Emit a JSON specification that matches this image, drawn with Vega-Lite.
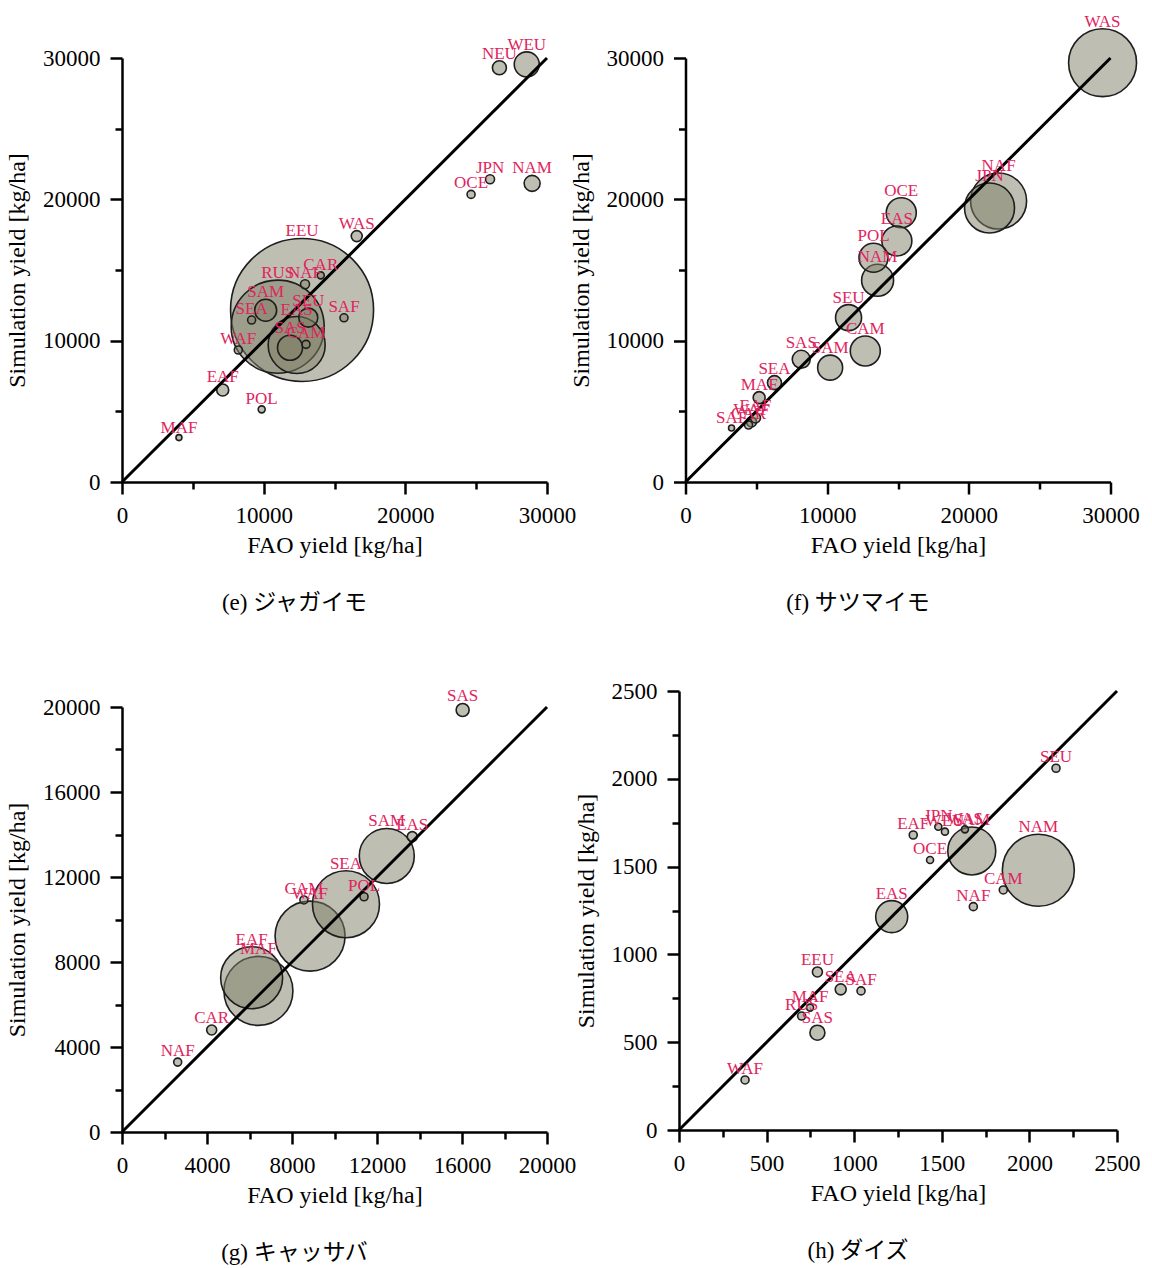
{
  "$schema": "https://vega.github.io/schema/vega-lite/v6.json",
  "background": "white",
  "padding": {"left": 5, "top": 12, "right": 0, "bottom": 0},
  "config": {
    "view": {"stroke": null},
    "axis": {"domainColor": "black", "domainWidth": 2.5, "tickColor": "black", "tickWidth": 2.5, "labelFont": "Liberation Serif", "labelFontSize": 23, "labelColor": "black", "titleFont": "Liberation Serif", "titleFontSize": 24, "titleFontWeight": "normal", "titleColor": "black", "grid": false, "labelFlush": false, "labelOverlap": false, "labelPadding": 10, "titlePadding": 6},
    "axisY": {"titlePadding": 13},
    "title": {"font": "Liberation Serif, Noto Sans CJK JP", "fontSize": 23, "fontWeight": "normal", "color": "black", "orient": "bottom", "anchor": "middle", "dx": -40, "offset": 35}
  },
  "datasets": {
    "e": [
      {"r": "EEU", "fao": 12710, "sim": 12170, "p": 204.5},
      {"r": "RUS", "fao": 10990, "sim": 10990, "p": 86.5},
      {"r": "EAS", "fao": 12330, "sim": 9690, "p": 32.5},
      {"r": "SAS", "fao": 11860, "sim": 9500, "p": 6.25},
      {"r": "WEU", "fao": 28570, "sim": 29550, "p": 6.25},
      {"r": "SAM", "fao": 10140, "sim": 12150, "p": 4.84},
      {"r": "SEU", "fao": 13150, "sim": 11630, "p": 3.61},
      {"r": "NAM", "fao": 28950, "sim": 21130, "p": 2.56},
      {"r": "NEU", "fao": 26640, "sim": 29310, "p": 1.96},
      {"r": "EAF", "fao": 7110, "sim": 6510, "p": 1.44},
      {"r": "WAS", "fao": 16570, "sim": 17400, "p": 1.21},
      {"r": "JPN", "fao": 25980, "sim": 21420, "p": 0.81},
      {"r": "NAF", "fao": 12920, "sim": 13990, "p": 0.81},
      {"r": "OCE", "fao": 24640, "sim": 20350, "p": 0.64},
      {"r": "SEA", "fao": 9150, "sim": 11460, "p": 0.64},
      {"r": "SAF", "fao": 15670, "sim": 11620, "p": 0.64},
      {"r": "WAF", "fao": 8210, "sim": 9340, "p": 0.64},
      {"r": "CAM", "fao": 12990, "sim": 9740, "p": 0.64},
      {"r": "CAR", "fao": 14030, "sim": 14620, "p": 0.49},
      {"r": "POL", "fao": 9860, "sim": 5140, "p": 0.49},
      {"r": "MAF", "fao": 4020, "sim": 3140, "p": 0.36}
    ],
    "f": [
      {"r": "WAS", "fao": 29440, "sim": 29670, "p": 46.2},
      {"r": "NAF", "fao": 22100, "sim": 19880, "p": 31.4},
      {"r": "JPN", "fao": 21460, "sim": 19390, "p": 25},
      {"r": "NAM", "fao": 13560, "sim": 14270, "p": 10.24},
      {"r": "OCE", "fao": 15230, "sim": 19050, "p": 9},
      {"r": "EAS", "fao": 14920, "sim": 17050, "p": 9},
      {"r": "CAM", "fao": 12690, "sim": 9270, "p": 9},
      {"r": "POL", "fao": 13270, "sim": 15870, "p": 8.41},
      {"r": "SEU", "fao": 11510, "sim": 11630, "p": 6.76},
      {"r": "SAM", "fao": 10210, "sim": 8090, "p": 6.25},
      {"r": "SAS", "fao": 8170, "sim": 8680, "p": 3.24},
      {"r": "SEA", "fao": 6280, "sim": 7030, "p": 1.96},
      {"r": "MAF", "fao": 5200, "sim": 5970, "p": 1.44},
      {"r": "WAF", "fao": 4660, "sim": 4250, "p": 1.0},
      {"r": "EAF", "fao": 4940, "sim": 4530, "p": 1.0},
      {"r": "CAR", "fao": 4450, "sim": 4030, "p": 0.64},
      {"r": "SAF", "fao": 3250, "sim": 3820, "p": 0.36}
    ],
    "g": [
      {"r": "WAF", "fao": 8850, "sim": 9220, "p": 49},
      {"r": "MAF", "fao": 6420, "sim": 6640, "p": 47.6},
      {"r": "SEA", "fao": 10540, "sim": 10720, "p": 44.9},
      {"r": "EAF", "fao": 6100, "sim": 7260, "p": 38.4},
      {"r": "SAM", "fao": 12460, "sim": 12990, "p": 30.25},
      {"r": "SAS", "fao": 16030, "sim": 19860, "p": 1.69},
      {"r": "EAS", "fao": 13660, "sim": 13900, "p": 1.0},
      {"r": "CAR", "fao": 4220, "sim": 4800, "p": 1.0},
      {"r": "POL", "fao": 11390, "sim": 11070, "p": 0.64},
      {"r": "CAM", "fao": 8560, "sim": 10920, "p": 0.64},
      {"r": "NAF", "fao": 2620, "sim": 3290, "p": 0.64}
    ],
    "h": [
      {"r": "NAM", "fao": 2051, "sim": 1479, "p": 51.8},
      {"r": "SAM", "fao": 1671, "sim": 1589, "p": 23},
      {"r": "EAS", "fao": 1214, "sim": 1215, "p": 10.24},
      {"r": "SAS", "fao": 790, "sim": 554, "p": 2.25},
      {"r": "SEA", "fao": 923, "sim": 801, "p": 1.21},
      {"r": "EEU", "fao": 790, "sim": 900, "p": 1.0},
      {"r": "SEU", "fao": 2152, "sim": 2060, "p": 0.64},
      {"r": "CAM", "fao": 1851, "sim": 1367, "p": 0.64},
      {"r": "NAF", "fao": 1680, "sim": 1272, "p": 0.64},
      {"r": "WAF", "fao": 377, "sim": 285, "p": 0.64},
      {"r": "SAF", "fao": 1039, "sim": 792, "p": 0.64},
      {"r": "RUS", "fao": 700, "sim": 649, "p": 0.64},
      {"r": "EAF", "fao": 1337, "sim": 1680, "p": 0.64},
      {"r": "MAF", "fao": 748, "sim": 697, "p": 0.49},
      {"r": "JPN", "fao": 1480, "sim": 1727, "p": 0.49},
      {"r": "WEU", "fao": 1518, "sim": 1699, "p": 0.49},
      {"r": "WAS", "fao": 1632, "sim": 1712, "p": 0.49},
      {"r": "OCE", "fao": 1433, "sim": 1538, "p": 0.49}
    ]
  },
  "spacing": 557,
  "bounds": "flush",
  "hconcat": [
    {
      "spacing": 225,
      "bounds": "flush",
      "vconcat": [
        {
          "width": 425, "height": 424,
          "title": {"text": "(e) ジャガイモ"},
          "encoding": {
            "x": {"field": "fao", "type": "quantitative", "scale": {"domain": [0, 30000], "nice": false}, "axis": {"title": "FAO yield [kg/ha]", "values": [0, 5000, 10000, 15000, 20000, 25000, 30000], "format": "d", "labelExpr": "datum.value % 10000 === 0 ? datum.label : ''", "tickSize": {"condition": {"test": "datum.value % 10000 === 0", "value": 12}, "value": 7}}},
            "y": {"field": "sim", "type": "quantitative", "scale": {"domain": [0, 30000], "nice": false}, "axis": {"title": "Simulation yield [kg/ha]", "values": [0, 5000, 10000, 15000, 20000, 25000, 30000], "format": "d", "labelExpr": "datum.value % 10000 === 0 ? datum.label : ''", "tickSize": {"condition": {"test": "datum.value % 10000 === 0", "value": 12}, "value": 7}}}
          },
          "layer": [
            {"data": {"name": "e"}, "mark": {"type": "point", "shape": "circle", "filled": true, "fill": "#7d7d66", "fillOpacity": 0.5, "stroke": "#1e1e1e", "strokeWidth": 1.6, "opacity": 1, "clip": false},
             "encoding": {"size": {"field": "p", "type": "quantitative", "scale": {"type": "linear", "domain": [0, 100], "range": [0, 10000]}, "legend": null}}},
            {"data": {"values": [{"fao": 0, "sim": 0, "fao2": 30000, "sim2": 30000}]}, "mark": {"type": "rule", "color": "black", "strokeWidth": 3},
             "encoding": {"x2": {"field": "fao2"}, "y2": {"field": "sim2"}}},
            {"data": {"name": "e"}, "mark": {"type": "text", "font": "Liberation Serif", "fontSize": 17, "color": "#e0245e", "baseline": "alphabetic", "align": "center", "dy": {"expr": "-sqrt(datum.p*100)/2-2"}},
             "encoding": {"text": {"field": "r"}}}
          ]
        },
        {
          "width": 425, "height": 425,
          "title": {"text": "(g) キャッサバ"},
          "encoding": {
            "x": {"field": "fao", "type": "quantitative", "scale": {"domain": [0, 20000], "nice": false}, "axis": {"title": "FAO yield [kg/ha]", "values": [0, 2000, 4000, 6000, 8000, 10000, 12000, 14000, 16000, 18000, 20000], "format": "d", "labelExpr": "datum.value % 4000 === 0 ? datum.label : ''", "tickSize": {"condition": {"test": "datum.value % 4000 === 0", "value": 12}, "value": 7}}},
            "y": {"field": "sim", "type": "quantitative", "scale": {"domain": [0, 20000], "nice": false}, "axis": {"title": "Simulation yield [kg/ha]", "values": [0, 2000, 4000, 6000, 8000, 10000, 12000, 14000, 16000, 18000, 20000], "format": "d", "labelExpr": "datum.value % 4000 === 0 ? datum.label : ''", "tickSize": {"condition": {"test": "datum.value % 4000 === 0", "value": 12}, "value": 7}}}
          },
          "layer": [
            {"data": {"name": "g"}, "mark": {"type": "point", "shape": "circle", "filled": true, "fill": "#7d7d66", "fillOpacity": 0.5, "stroke": "#1e1e1e", "strokeWidth": 1.6, "opacity": 1, "clip": false},
             "encoding": {"size": {"field": "p", "type": "quantitative", "scale": {"type": "linear", "domain": [0, 100], "range": [0, 10000]}, "legend": null}}},
            {"data": {"values": [{"fao": 0, "sim": 0, "fao2": 20000, "sim2": 20000}]}, "mark": {"type": "rule", "color": "black", "strokeWidth": 3},
             "encoding": {"x2": {"field": "fao2"}, "y2": {"field": "sim2"}}},
            {"data": {"name": "g"}, "mark": {"type": "text", "font": "Liberation Serif", "fontSize": 17, "color": "#e0245e", "baseline": "alphabetic", "align": "center", "dy": {"expr": "-sqrt(datum.p*100)/2-2"}},
             "encoding": {"text": {"field": "r"}}}
          ]
        }
      ]
    },
    {
      "spacing": 209,
      "bounds": "flush",
      "center": true,
      "vconcat": [
        {
          "width": 425, "height": 424,
          "title": {"text": "(f) サツマイモ"},
          "encoding": {
            "x": {"field": "fao", "type": "quantitative", "scale": {"domain": [0, 30000], "nice": false}, "axis": {"title": "FAO yield [kg/ha]", "values": [0, 5000, 10000, 15000, 20000, 25000, 30000], "format": "d", "labelExpr": "datum.value % 10000 === 0 ? datum.label : ''", "tickSize": {"condition": {"test": "datum.value % 10000 === 0", "value": 12}, "value": 7}}},
            "y": {"field": "sim", "type": "quantitative", "scale": {"domain": [0, 30000], "nice": false}, "axis": {"title": "Simulation yield [kg/ha]", "values": [0, 5000, 10000, 15000, 20000, 25000, 30000], "format": "d", "labelExpr": "datum.value % 10000 === 0 ? datum.label : ''", "tickSize": {"condition": {"test": "datum.value % 10000 === 0", "value": 12}, "value": 7}}}
          },
          "layer": [
            {"data": {"name": "f"}, "mark": {"type": "point", "shape": "circle", "filled": true, "fill": "#7d7d66", "fillOpacity": 0.5, "stroke": "#1e1e1e", "strokeWidth": 1.6, "opacity": 1, "clip": false},
             "encoding": {"size": {"field": "p", "type": "quantitative", "scale": {"type": "linear", "domain": [0, 100], "range": [0, 10000]}, "legend": null}}},
            {"data": {"values": [{"fao": 0, "sim": 0, "fao2": 30000, "sim2": 30000}]}, "mark": {"type": "rule", "color": "black", "strokeWidth": 3},
             "encoding": {"x2": {"field": "fao2"}, "y2": {"field": "sim2"}}},
            {"data": {"name": "f"}, "mark": {"type": "text", "font": "Liberation Serif", "fontSize": 17, "color": "#e0245e", "baseline": "alphabetic", "align": "center", "dy": {"expr": "-sqrt(datum.p*100)/2-2"}},
             "encoding": {"text": {"field": "r"}}}
          ]
        },
        {
          "width": 438, "height": 439,
          "title": {"text": "(h) ダイズ"},
          "encoding": {
            "x": {"field": "fao", "type": "quantitative", "scale": {"domain": [0, 2500], "nice": false}, "axis": {"title": "FAO yield [kg/ha]", "values": [0, 250, 500, 750, 1000, 1250, 1500, 1750, 2000, 2250, 2500], "format": "d", "labelExpr": "datum.value % 500 === 0 ? datum.label : ''", "tickSize": {"condition": {"test": "datum.value % 500 === 0", "value": 12}, "value": 7}}},
            "y": {"field": "sim", "type": "quantitative", "scale": {"domain": [0, 2500], "nice": false}, "axis": {"title": "Simulation yield [kg/ha]", "values": [0, 250, 500, 750, 1000, 1250, 1500, 1750, 2000, 2250, 2500], "format": "d", "labelExpr": "datum.value % 500 === 0 ? datum.label : ''", "tickSize": {"condition": {"test": "datum.value % 500 === 0", "value": 12}, "value": 7}}}
          },
          "layer": [
            {"data": {"name": "h"}, "mark": {"type": "point", "shape": "circle", "filled": true, "fill": "#7d7d66", "fillOpacity": 0.5, "stroke": "#1e1e1e", "strokeWidth": 1.6, "opacity": 1, "clip": false},
             "encoding": {"size": {"field": "p", "type": "quantitative", "scale": {"type": "linear", "domain": [0, 100], "range": [0, 10000]}, "legend": null}}},
            {"data": {"values": [{"fao": 0, "sim": 0, "fao2": 2500, "sim2": 2500}]}, "mark": {"type": "rule", "color": "black", "strokeWidth": 3},
             "encoding": {"x2": {"field": "fao2"}, "y2": {"field": "sim2"}}},
            {"data": {"name": "h"}, "mark": {"type": "text", "font": "Liberation Serif", "fontSize": 17, "color": "#e0245e", "baseline": "alphabetic", "align": "center", "dy": {"expr": "-sqrt(datum.p*100)/2-2"}},
             "encoding": {"text": {"field": "r"}}}
          ]
        }
      ]
    }
  ]
}
